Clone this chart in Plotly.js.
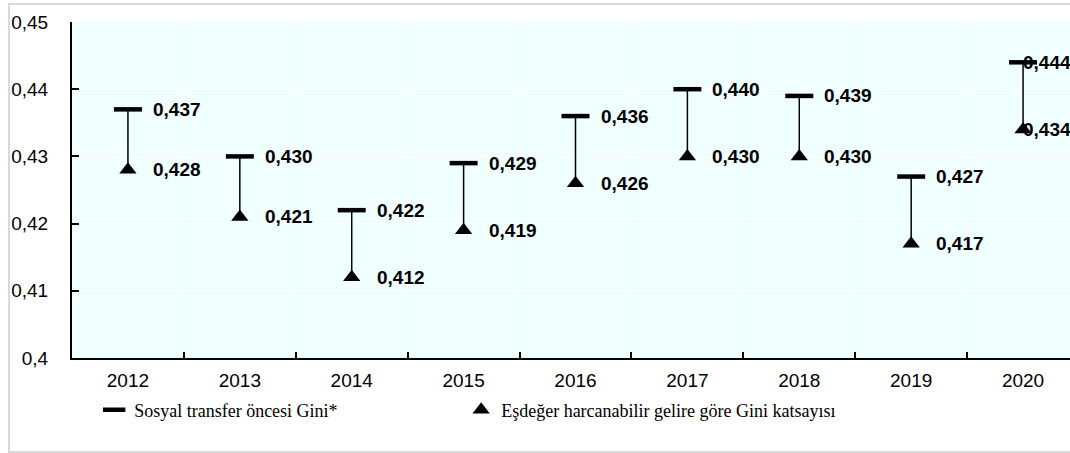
<!DOCTYPE html>
<html>
<head>
<meta charset="utf-8">
<script src="https://cdn.plot.ly/plotly-3.0.1.min.js"></script>
<style>
html,body{margin:0;padding:0;background:#fff;overflow:hidden;width:1070px;height:453px;}
#frame{position:absolute;left:8px;top:3px;width:1100px;height:446px;border:2px solid #d9d9d9;pointer-events:none;z-index:5;}
#chart{position:absolute;left:0;top:0;width:1092px;height:453px;}
</style>
</head>
<body>
<div id="chart"></div>
<div id="frame"></div>
<script>
const years = ['2012','2013','2014','2015','2016','2017','2018','2019','2020'];
const beforeTransfer = [0.437, 0.430, 0.422, 0.429, 0.436, 0.440, 0.439, 0.427, 0.444];
const disposable = [0.428, 0.421, 0.412, 0.419, 0.426, 0.430, 0.430, 0.417, 0.434];
const yTicks = [0.40, 0.41, 0.42, 0.43, 0.44, 0.45];
const yTickText = ['0,4', '0,41', '0,42', '0,43', '0,44', '0,45'];
const seriesNames = ['Sosyal transfer öncesi Gini*', 'Eşdeğer harcanabilir gelire göre Gini katsayısı'];

const sans = "Liberation Sans, Arial, sans-serif";
const fmt = v => v.toFixed(3).replace('.', ',');

const traces = [
  {
    type: 'scatter', mode: 'markers', name: seriesNames[0],
    x: years, y: beforeTransfer,
    marker: {symbol: 'line-ew', size: 20, color: '#000', line: {color: '#000', width: 4.5}},
    error_y: {type: 'data', symmetric: false, array: years.map(() => 0),
              arrayminus: beforeTransfer.map((v, i) => v - disposable[i]),
              width: 0, thickness: 1.5, color: '#000'},
    cliponaxis: false, hoverinfo: 'x+y', legendwidth: 322
  },
  {
    type: 'scatter', mode: 'markers', name: seriesNames[1],
    x: years, y: disposable,
    marker: {symbol: 'triangle-up', size: 15, color: '#000'},
    cliponaxis: false, hoverinfo: 'x+y'
  }
];

const annotations = [];
[beforeTransfer, disposable].forEach(arr => {
  arr.forEach((v, i) => {
    annotations.push({
      x: i, y: v, xref: 'x', yref: 'y', text: '<b>' + fmt(v) + '</b>', showarrow: false,
      xanchor: 'left', yanchor: 'middle', xshift: i === years.length - 1 ? -2 : 23,
      font: {family: sans, size: 19, color: '#000'}
    });
  });
});

const layout = {
  width: 1092, height: 453,
  margin: {l: 72, r: 13, t: 22, b: 95},
  paper_bgcolor: 'rgba(0,0,0,0)',
  plot_bgcolor: '#F0FFFF',
  separators: ',.',
  showlegend: true,
  legend: {
    orientation: 'h', x: 0.022, xanchor: 'left', y: -0.155, yanchor: 'middle',
    font: {family: "Liberation Serif, Times New Roman, serif", size: 18, color: '#000'},
    itemwidth: 30, bgcolor: 'rgba(0,0,0,0)'
  },
  xaxis: {
    type: 'category', categoryorder: 'array', categoryarray: years,
    range: [-0.5, 8.5],
    showline: true, linecolor: '#000', linewidth: 2,
    ticks: 'inside', tickson: 'boundaries', ticklen: 6, tickwidth: 2, tickcolor: '#000',
    showgrid: true, gridcolor: '#ffffff', gridwidth: 1,
    tickfont: {family: sans, size: 19, color: '#000'},
    ticklabelstandoff: 4,
    zeroline: false, fixedrange: true
  },
  yaxis: {
    range: [0.40, 0.45], tickvals: yTicks, ticktext: yTickText,
    showline: true, linecolor: '#000', linewidth: 2,
    ticks: 'inside', ticklen: 7, tickwidth: 2, tickcolor: '#000',
    showgrid: true, gridcolor: '#ffffff', gridwidth: 1,
    tickfont: {family: sans, size: 19, color: '#000'},
    ticklabelstandoff: 18,
    zeroline: false, fixedrange: true
  },
  annotations: annotations
};

Plotly.newPlot('chart', traces, layout, {displayModeBar: false, staticPlot: true});
</script>
</body>
</html>
